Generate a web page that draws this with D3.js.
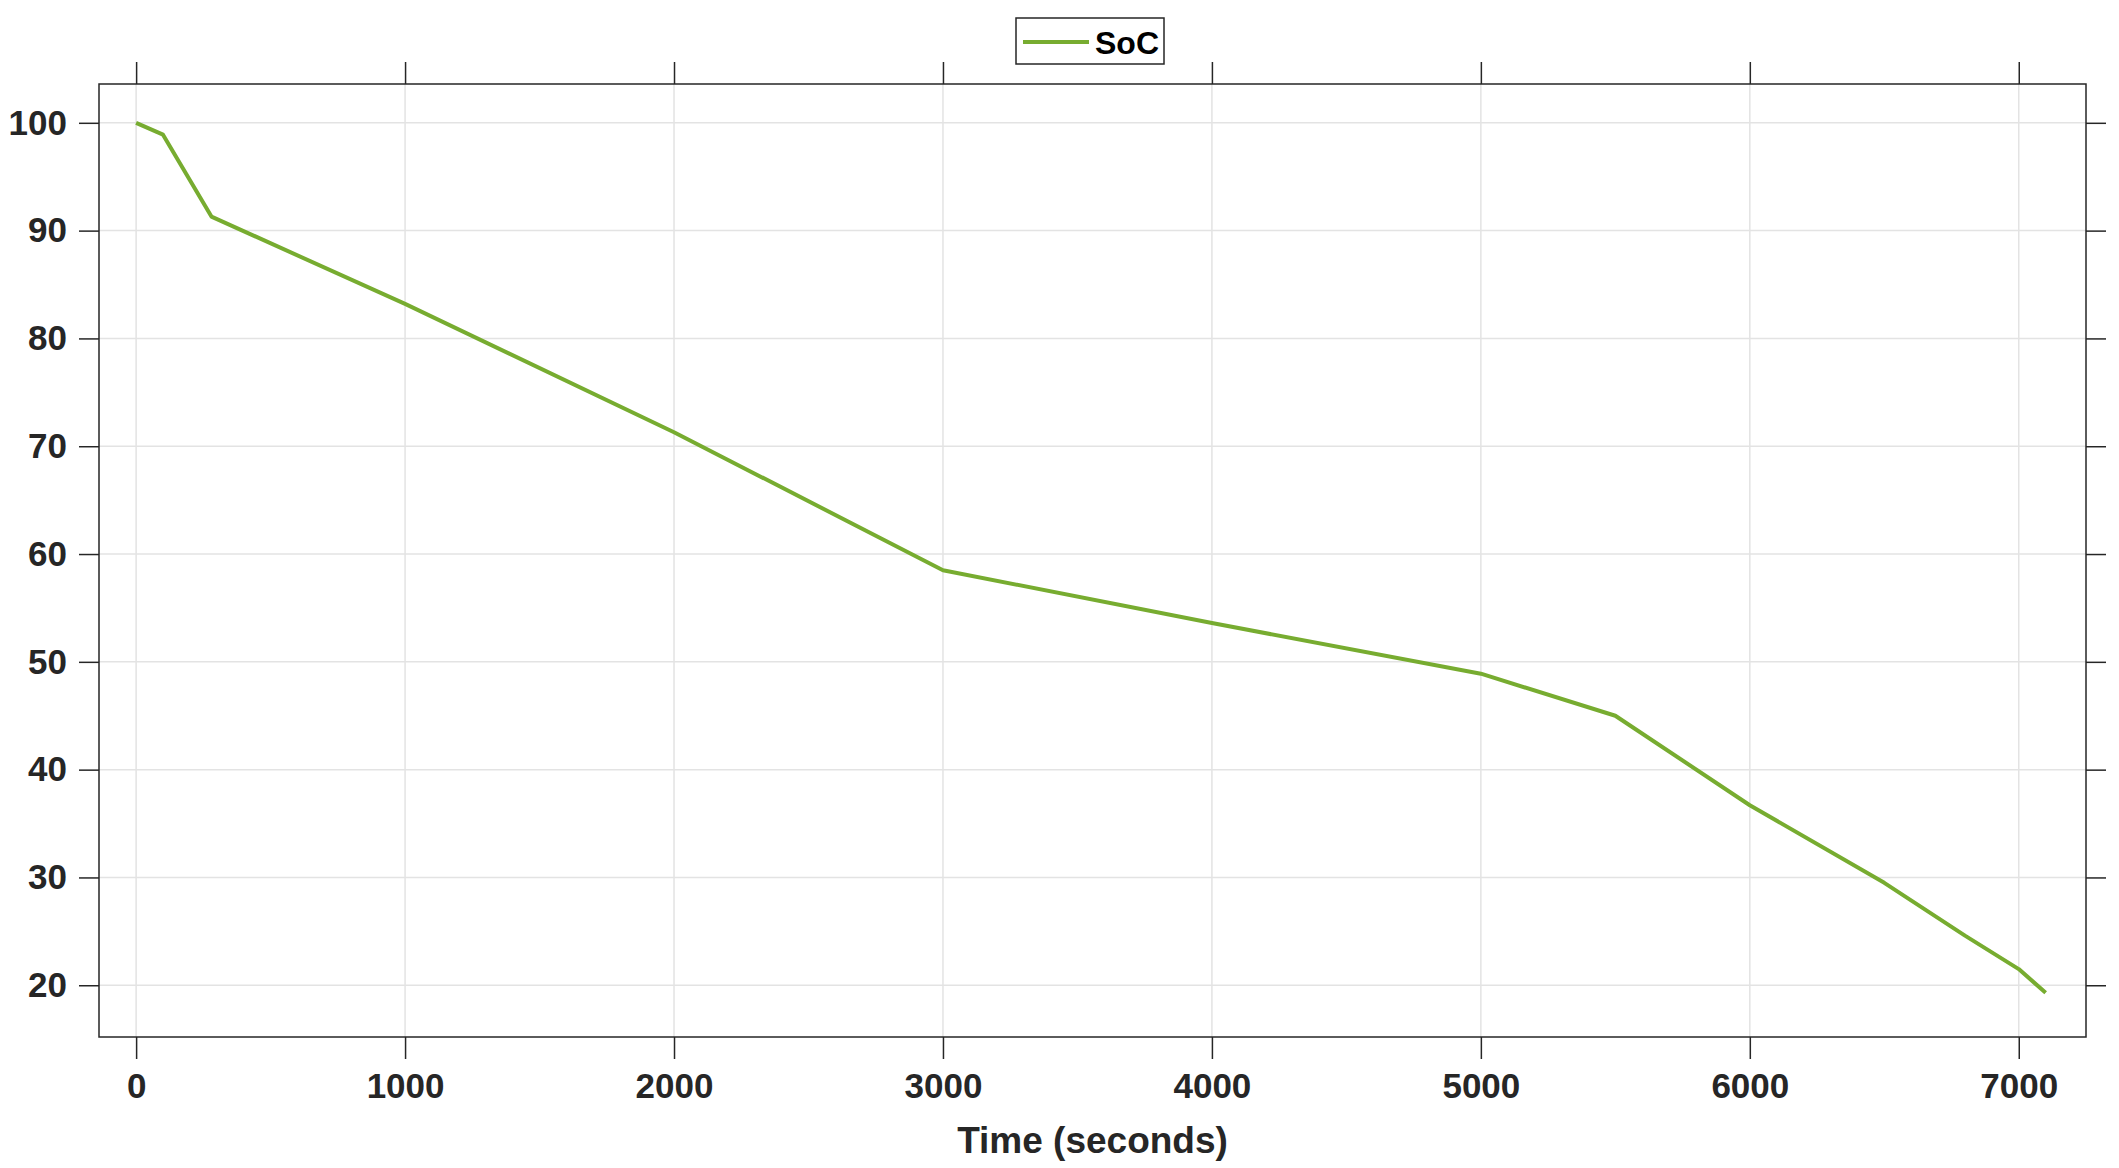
<!DOCTYPE html>
<html>
<head>
<meta charset="UTF-8">
<script src="https://d3js.org/d3.v7.min.js"></script>
<style>
body { margin: 0; background: #fff; }
text { font-family: "Liberation Sans", Arial, sans-serif; font-weight: bold; fill: #262626; }
</style>
</head>
<body>
<script>
// SoC over time
var timeSec = [0, 100, 280, 1000, 2000, 3000, 4000, 5000, 5500, 6000, 6500, 6800, 7000, 7100];
var socPct  = [100, 98.9, 91.3, 83.2, 71.3, 58.5, 53.6, 48.9, 45.0, 36.7, 29.5, 24.6, 21.5, 19.3];
var xTicks = [0, 1000, 2000, 3000, 4000, 5000, 6000, 7000];
var yTicks = [20, 30, 40, 50, 60, 70, 80, 90, 100];
var seriesName = 'SoC';
var lineColor = '#77AC30';

var W = 2119, H = 1168;
var pL = 99, pR = 2086, pT = 84, pB = 1037;

var svg = d3.select('body').append('svg').attr('width', W).attr('height', H);

var x = d3.scaleLinear().domain([-138, 7250]).range([pL, pR]);
var y = d3.scaleLinear().domain([15.2, 103.6]).range([pB, pT]);

// grid
svg.append('g').selectAll('line').data(xTicks).enter().append('line')
  .attr('x1', d => x(d)).attr('x2', d => x(d)).attr('y1', pT).attr('y2', pB)
  .attr('stroke', '#e3e3e3').attr('stroke-width', 1.5);
svg.append('g').selectAll('line').data(yTicks).enter().append('line')
  .attr('y1', d => y(d)).attr('y2', d => y(d)).attr('x1', pL).attr('x2', pR)
  .attr('stroke', '#e3e3e3').attr('stroke-width', 1.5);

// axes (ticks point outward, mirrored on all four sides)
function styleAxis(g) {
  g.select('.domain').remove();
  g.selectAll('.tick line').attr('stroke', '#262626').attr('stroke-width', 1.5);
  g.selectAll('.tick text').style('font-size', '35px');
}
svg.append('g').attr('transform', `translate(0,${pB})`)
  .call(d3.axisBottom(x).tickValues(xTicks).tickSize(22).tickPadding(14).tickFormat(d3.format('d')))
  .call(styleAxis);
svg.append('g').attr('transform', `translate(0,${pT})`)
  .call(d3.axisTop(x).tickValues(xTicks).tickSize(22).tickFormat(''))
  .call(styleAxis);
svg.append('g').attr('transform', `translate(${pL},0)`)
  .call(d3.axisLeft(y).tickValues(yTicks).tickSize(20).tickPadding(12).tickFormat(d3.format('d')))
  .call(styleAxis);
svg.append('g').attr('transform', `translate(${pR},0)`)
  .call(d3.axisRight(y).tickValues(yTicks).tickSize(20).tickFormat(''))
  .call(styleAxis);

svg.append('rect').attr('x', pL).attr('y', pT)
  .attr('width', pR - pL).attr('height', pB - pT)
  .attr('fill', 'none').attr('stroke', '#262626').attr('stroke-width', 1.5);

// line
var pts = timeSec.map((t, i) => [t, socPct[i]]);
svg.append('path').datum(pts)
  .attr('d', d3.line().x(d => x(d[0])).y(d => y(d[1])))
  .attr('fill', 'none').attr('stroke', lineColor).attr('stroke-width', 4)
  .attr('stroke-linejoin', 'round');

// x label
svg.append('text').attr('x', (pL + pR) / 2).attr('y', 1153)
  .attr('text-anchor', 'middle').style('font-size', '37px').text('Time (seconds)');

// legend
var lg = svg.append('g').attr('transform', 'translate(1016,18)');
lg.append('rect').attr('width', 148).attr('height', 46)
  .attr('fill', '#fff').attr('stroke', '#262626').attr('stroke-width', 1.5);
lg.append('line').attr('x1', 7).attr('x2', 73).attr('y1', 24).attr('y2', 24)
  .attr('stroke', lineColor).attr('stroke-width', 4);
lg.append('text').attr('x', 79).attr('y', 36).style('font-size', '32px')
  .style('fill', '#000').text(seriesName);
</script>
</body>
</html>
